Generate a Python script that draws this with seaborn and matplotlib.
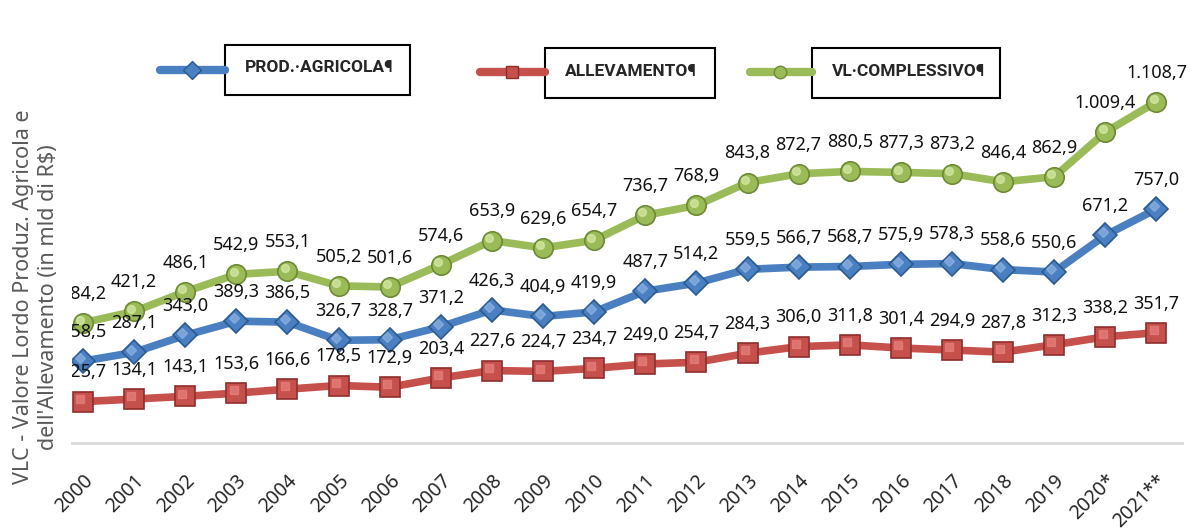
import numpy as np
import pandas as pd
import matplotlib.pyplot as plt
import matplotlib.transforms as mtransforms
import seaborn as sns
from matplotlib.lines import Line2D
from matplotlib.patches import Rectangle

years = ['2000', '2001', '2002', '2003', '2004', '2005', '2006', '2007', '2008', '2009', '2010',
         '2011', '2012', '2013', '2014', '2015', '2016', '2017', '2018', '2019', '2020*', '2021**']
prod_agricola = [258.5, 287.1, 343.0, 389.3, 386.5, 326.7, 328.7, 371.2, 426.3, 404.9, 419.9,
                 487.7, 514.2, 559.5, 566.7, 568.7, 575.9, 578.3, 558.6, 550.6, 671.2, 757.0]
allevamento = [125.7, 134.1, 143.1, 153.6, 166.6, 178.5, 172.9, 203.4, 227.6, 224.7, 234.7,
               249.0, 254.7, 284.3, 306.0, 311.8, 301.4, 294.9, 287.8, 312.3, 338.2, 351.7]
vl_complessivo = [384.2, 421.2, 486.1, 542.9, 553.1, 505.2, 501.6, 574.6, 653.9, 629.6, 654.7,
                  736.7, 768.9, 843.8, 872.7, 880.5, 877.3, 873.2, 846.4, 862.9, 1009.4, 1108.7]
legend_labels = ['PROD.·AGRICOLA¶', 'ALLEVAMENTO¶', 'VL·COMPLESSIVO¶']

sns.set_theme(style='white')
plt.rcParams['font.family'] = ['Noto Sans', 'DejaVu Sans']

W, H = 1195, 530
fig = plt.figure(figsize=(W / 100, H / 100), dpi=100)
ax = fig.add_axes([72 / W, (H - 443) / H, 1110 / W, 423 / H])

x = np.arange(len(years))

def fmt(v):
    return f'{v:,.1f}'.replace(',', 'X').replace('.', ',').replace('X', '.')

# valori, colore, bordo, riflesso, marker, dimensione
series = [
    (prod_agricola, '#4A7FC1', '#2B5A8F', '#8DB3E2', 'D', 12),
    (allevamento, '#C6504C', '#8E2E2B', '#E8827D', 's', 14),
    (vl_complessivo, '#9BBB59', '#6E8A35', '#D8EBA8', 'o', 14),
]

shift = ax.transData + mtransforms.ScaledTranslation(-2 / 72, 2 / 72, fig.dpi_scale_trans)

for vals, color, edge, light, marker, ms in series:
    sns.lineplot(x=x, y=vals, ax=ax, color=color, lw=5.5, marker=marker, markersize=ms,
                 markerfacecolor=color, markeredgecolor=edge, markeredgewidth=1.2)
    ax.plot(x, vals, lw=0, marker=marker, markersize=ms * 0.4, color=light, alpha=0.7,
            transform=shift)
    for i, v in enumerate(vals):
        ax.annotate(fmt(v), (i, v), xytext=(0, 21), textcoords='offset points',
                    ha='center', va='center', fontsize=13, color='#111111', clip_on=(i == 0))

ax.set_xlim(-0.215, 21.5)
ax.set_ylim(-10, 1377)
ax.set_yticks([])
ax.set_ylabel('')
for s in ['left', 'top', 'right']:
    ax.spines[s].set_visible(False)
ax.spines['bottom'].set_color('#D9D9D9')
ax.spines['bottom'].set_linewidth(2)
ax.set_xticks(x)
ax.set_xticklabels(years, rotation=45, ha='right', rotation_mode='anchor', fontsize=14)
ax.tick_params(axis='x', length=0, pad=20)

fig.text(36 / W, 1 - 297 / H, "VLC - Valore Lordo Produz. Agricola e\ndell'Allevamento (in mld di R$)",
         rotation=90, ha='center', va='center', color='#595959', fontsize=15.5, linespacing=1.2)

# legenda con riquadri
leg = [
    (160, 225, 192, 70, 225, 410, 45, 95),
    (480, 545, 512, 72, 545, 715, 48, 98),
    (750, 812, 780, 72, 812, 1000, 48, 98),
]
for (x0, x1, xm, yl, bx0, bx1, by0, by1), (vals, color, edge, light, marker, ms), lab in zip(leg, series, legend_labels):
    fig.add_artist(Line2D([x0 / W, x1 / W], [1 - yl / H, 1 - yl / H], transform=fig.transFigure,
                          color=color, lw=6, solid_capstyle='round'))
    fig.add_artist(Line2D([xm / W], [1 - yl / H], transform=fig.transFigure, marker=marker,
                          markersize=9, color=color, markeredgecolor=edge, lw=0))
    fig.add_artist(Rectangle((bx0 / W, 1 - by1 / H), (bx1 - bx0) / W, (by1 - by0) / H,
                             transform=fig.transFigure, fill=False, edgecolor='black', lw=1.5))
    fig.text((bx0 + 20) / W, 1 - ((by0 + by1) / 2 - 2) / H, lab, ha='left', va='center',
             fontsize=12.5, fontweight='bold', family=['Roboto', 'DejaVu Sans'])

fig.savefig('out.png', dpi=100)
